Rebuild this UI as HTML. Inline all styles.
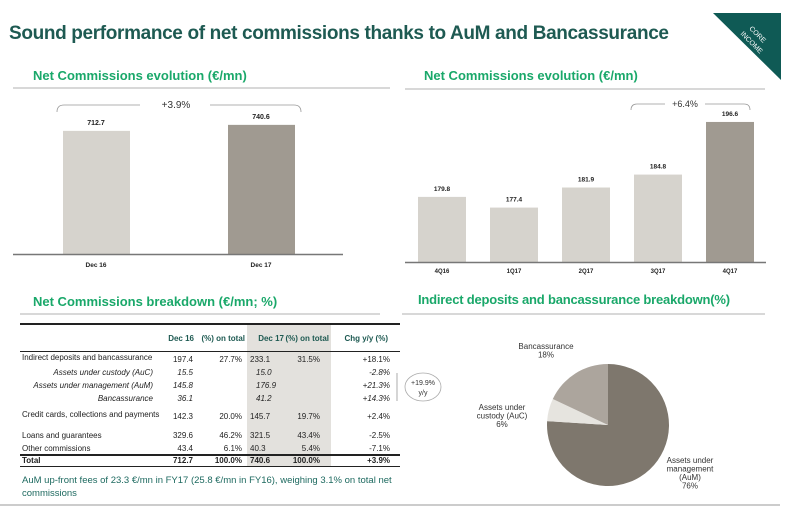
<!DOCTYPE html>
<html><head><meta charset="utf-8"><style>
body{margin:0;width:785px;height:509px;background:#fff;position:relative;overflow:hidden;font-family:"Liberation Sans",sans-serif}
.a{position:absolute;white-space:nowrap}
.t{font-size:8px;color:#222}
.r{text-align:right}
.h{font-size:8px;font-weight:bold;color:#1e5a52}
</style></head><body>
<div class="a" style="left:9px;top:23px;font-size:19px;font-weight:bold;color:#1e5a52;letter-spacing:-0.35px">Sound performance of net commissions thanks to AuM and Bancassurance</div>
<svg class="a" style="left:0;top:0" width="785" height="509">
<polygon points="713,13 781,13 781,80" fill="#0f5a55"/>
<text x="756" y="36" fill="#fff" font-size="7" transform="rotate(45 756 36)" text-anchor="middle" font-family="Liberation Sans">CORE</text>
<text x="750" y="44" fill="#fff" font-size="7" transform="rotate(45 750 44)" text-anchor="middle" font-family="Liberation Sans">INCOME</text>
<line x1="405" y1="89" x2="765" y2="89" stroke="#ccc" stroke-width="1.5"/>
<line x1="13" y1="88" x2="390" y2="88" stroke="#ccc" stroke-width="1.5"/>
<line x1="20" y1="314" x2="380" y2="314" stroke="#ccc" stroke-width="1.5"/>
<line x1="402" y1="314" x2="765" y2="314" stroke="#ccc" stroke-width="1.5"/>
<line x1="0" y1="505" x2="780" y2="505" stroke="#ccc" stroke-width="2"/>
</svg>
<div class="a" style="left:33px;top:68px;font-size:13px;font-weight:bold;color:#1aa86a">Net Commissions evolution (€/mn)</div>
<div class="a" style="left:424px;top:68px;font-size:13px;font-weight:bold;color:#1aa86a">Net Commissions evolution (€/mn)</div>
<div class="a" style="left:33px;top:294px;font-size:13px;font-weight:bold;color:#1aa86a">Net Commissions breakdown (€/mn; %)</div>
<div class="a" style="left:418px;top:292px;font-size:13px;font-weight:bold;color:#1aa86a;letter-spacing:-0.2px">Indirect deposits and bancassurance  breakdown(%)</div>

<svg id="c1" class="a" style="left:0;top:0" width="785" height="300"></svg>
<svg id="pie" class="a" style="left:400px;top:300px" width="385" height="200"></svg>

<div>
<div class="a" style="left:247px;top:325px;width:84px;height:141px;background:#e3e1dd"></div>
<div class="a" style="left:20px;top:323px;width:380px;height:2px;background:#222"></div>
<div class="a" style="left:20px;top:351px;width:380px;height:1px;background:#222"></div>
<div class="a" style="left:20px;top:454px;width:380px;height:2px;background:#222"></div>
<div class="a" style="left:20px;top:466px;width:380px;height:1px;background:#222"></div>
<div class="a h r" style="left:150px;top:334px;width:44px">Dec 16</div>
<div class="a h r" style="left:196px;top:334px;width:49px">(%) on total</div>
<div class="a h r" style="left:246px;top:334px;width:38px">Dec 17</div>
<div class="a h r" style="left:282px;top:334px;width:47px">(%) on total</div>
<div class="a h r" style="left:336px;top:334px;width:52px">Chg y/y (%)</div>
</div>
<div id="rows"></div>
<svg class="a" style="left:395px;top:370px" width="50" height="36"><line x1="2" y1="3" x2="2" y2="31" stroke="#888" stroke-width="0.7"/><ellipse cx="28" cy="17" rx="18" ry="14" fill="none" stroke="#aaa" stroke-width="0.8"/><text x="28" y="15" font-size="7" text-anchor="middle" fill="#333" font-family="Liberation Sans">+19.9%</text><text x="28" y="25" font-size="7" text-anchor="middle" fill="#333" font-family="Liberation Sans">y/y</text></svg>
<div class="a" style="left:22px;top:474px;font-size:9.5px;color:#1e6a60;line-height:13px">AuM up-front fees of 23.3 €/mn in FY17 (25.8 €/mn in FY16), weighing 3.1% on total net<br>commissions</div>

<script>
const leftCats=["Dec 16","Dec 17"];
const leftVals=[712.7,740.6];
const rightCats=["4Q16","1Q17","2Q17","3Q17","4Q17"];
const rightVals=[179.8,177.4,181.9,184.8,196.6];
const pieLabels=["Assets under management (AuM)","Assets under custody (AuC)","Bancassurance"];
const pieVals=[76,6,18];
const rowLabels=["Indirect deposits and bancassurance","Assets under custody (AuC)","Assets under management (AuM)","Bancassurance","Credit cards, collections and payments","Loans and guarantees","Other commissions","Total"];
const dec16=["197.4","15.5","145.8","36.1","142.3","329.6","43.4","712.7"];
const pct16=["27.7%","","","","20.0%","46.2%","6.1%","100.0%"];
const dec17=["233.1","15.0","176.9","41.2","145.7","321.5","40.3","740.6"];
const pct17=["31.5%","","","","19.7%","43.4%","5.4%","100.0%"];
const chg=["+18.1%","-2.8%","+21.3%","+14.3%","+2.4%","-2.5%","-7.1%","+3.9%"];

const NS="http://www.w3.org/2000/svg";
function mk(p,t,a){const e=document.createElementNS(NS,t);for(const k in a)e.setAttribute(k,a[k]);p.appendChild(e);return e;}
const svg=document.getElementById('c1');
const yL=v=>254-(v-140)*0.215;
const xL=i=>63+i*165;
leftVals.forEach((v,i)=>{
  const r=mk(svg,'rect',{x:xL(i),y:yL(v),width:67,height:254-yL(v),fill:i==1?'#a09a91':'#d6d3cd'});
  
  
  const t=mk(svg,'text',{x:xL(i)+33,y:yL(v)-6,'font-size':7,'font-weight':'bold','text-anchor':'middle','font-family':'Liberation Sans',fill:'#222'});t.textContent=v.toFixed(1);
  
  
  const c=mk(svg,'text',{x:xL(i)+33,y:267,'font-size':6.5,'font-weight':'bold','text-anchor':'middle','font-family':'Liberation Sans',fill:'#222'});c.textContent=leftCats[i];
  
  
});
mk(svg,'line',{x1:13,y1:254.5,x2:343,y2:254.5,stroke:'#777','stroke-width':1.5});
mk(svg,'path',{d:'M57,112 Q57,105 64,105 L140,105 M210,105 L294,105 Q301,105 301,112',fill:'none',stroke:'#999','stroke-width':0.8});
const g1=mk(svg,'text',{x:176,y:108,'font-size':10,'text-anchor':'middle','font-family':'Liberation Sans',fill:'#333'});g1.textContent='+3.9%';
const yR=v=>262-(v-165.2)*4.46;
const xR=i=>418+i*72;
rightVals.forEach((v,i)=>{
  const r=mk(svg,'rect',{x:xR(i),y:yR(v),width:48,height:262-yR(v),fill:i==4?'#a09a91':'#d6d3cd'});
  
  
  const t=mk(svg,'text',{x:xR(i)+24,y:yR(v)-6,'font-size':6.5,'font-weight':'bold','text-anchor':'middle','font-family':'Liberation Sans',fill:'#222'});t.textContent=v.toFixed(1);
  
  
  const c=mk(svg,'text',{x:xR(i)+24,y:273,'font-size':6,'font-weight':'bold','text-anchor':'middle','font-family':'Liberation Sans',fill:'#222'});c.textContent=rightCats[i];
  
  
});
mk(svg,'line',{x1:405,y1:262.5,x2:766,y2:262.5,stroke:'#777','stroke-width':1.5});
mk(svg,'path',{d:'M631,110 Q631,104 637,104 L665,104 M705,104 L744,104 Q750,104 750,110',fill:'none',stroke:'#999','stroke-width':0.8});
const g2=mk(svg,'text',{x:685,y:107,'font-size':9,'text-anchor':'middle','font-family':'Liberation Sans',fill:'#333'});g2.textContent='+6.4%';
const pie=document.getElementById('pie');
const cx=208,cy=125,R=61;const cols=['#7e776d','#e6e4df','#aca59d'];
const tot=pieVals.reduce((a,b)=>a+b,0);let ang=0;
pieVals.forEach((v,i)=>{
  const a0=ang,a1=ang+v/tot*2*Math.PI;ang=a1;
  const p=(a)=>[cx+R*Math.sin(a),cy-R*Math.cos(a)];
  const [x0,y0]=p(a0),[x1,y1]=p(a1);
  const s=mk(pie,'path',{d:`M${cx},${cy} L${x0},${y0} A${R},${R} 0 ${a1-a0>Math.PI?1:0} 1 ${x1},${y1} Z`,fill:cols[i]});
  
  
});
const lab=[[[290,163],["Assets under","management","(AuM)",pieVals[0]+"%"]],[[102,110],["Assets under","custody (AuC)",pieVals[1]+"%"]],[[146,49],["Bancassurance",pieVals[2]+"%"]]];
lab.forEach(([[x,y],ls])=>{ls.forEach((l,j)=>{const t=mk(pie,'text',{x:x,y:y+j*8.5,'font-size':8,'text-anchor':'middle','font-family':'Liberation Sans',fill:'#333'});t.textContent=l;});});
const rows=document.getElementById('rows');
const ys=[355,368,381,394,412,431,444,456];
rowLabels.forEach((l,i)=>{
  const sub=i>=1&&i<=3,tot=i==7;
  const st=(sub?'font-style:italic;':'')+(tot?'font-weight:bold;':'');
  let h=sub?`<div class="a t r" style="left:20px;width:133px;top:${ys[i]}px;${st}">${l}</div>`:`<div class="a t" style="left:22px;top:${ys[i]-(i==0||i==4?2:0)}px;${st}">${l}</div>`;
  h+=`<div class="a t r" style="left:150px;width:43px;top:${ys[i]}px;${st}">${dec16[i]}</div>`;
  h+=`<div class="a t r" style="left:196px;width:46px;top:${ys[i]}px;${st}">${pct16[i]}</div>`;
  h+=`<div class="a t" style="left:${sub?256:250}px;top:${ys[i]}px;${st}">${dec17[i]}</div>`;
  h+=`<div class="a t r" style="left:280px;width:40px;top:${ys[i]}px;${st}">${pct17[i]}</div>`;
  h+=`<div class="a t r" style="left:340px;width:50px;top:${ys[i]}px;${st}">${chg[i]}</div>`;
  const d=document.createElement('div');d.innerHTML=h;
  
  
  rows.appendChild(d);
});
</script>
</body></html>
